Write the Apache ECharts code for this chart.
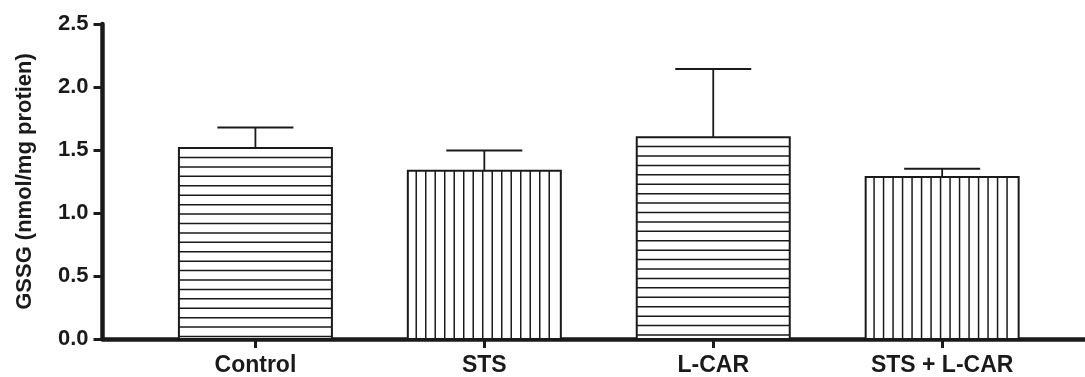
<!DOCTYPE html>
<html>
<head>
<meta charset="utf-8">
<script src="https://cdn.jsdelivr.net/npm/echarts@6/dist/echarts.min.js"></script>
<style>html,body{margin:0;padding:0;background:#fff}#c{width:1085px;height:377px}</style>
</head>
<body>
<div id="c"></div>
<script>
const categories = ['Control', 'STS', 'L-CAR', 'STS + L-CAR'];
const means = [1.515, 1.335, 1.602, 1.285];
const errors = [0.163, 0.161, 0.541, 0.066];
const hatch = ['h', 'v', 'h', 'v'];
const yTicks = [0, 0.5, 1.0, 1.5, 2.0, 2.5];

const FONT = '"Liberation Sans", Arial, Helvetica, sans-serif';
const INK = '#1a1a1a';

const data = categories.map((c, i) => [i, means[i], errors[i], hatch[i] === 'h' ? 0 : 1]);

const chart = echarts.init(document.getElementById('c'));
chart.setOption({
  animation: false,
  backgroundColor: '#fff',
  grid: { left: 102.5, right: 0, top: 24, bottom: 37.5 },
  xAxis: {
    type: 'value',
    min: -0.668, max: 3.624,
    splitLine: { show: false },
    axisLine: { show: true, onZero: false, lineStyle: { color: INK, width: 4.5 } },
    axisTick: { show: true, customValues: [0, 1, 2, 3], length: 9, lineStyle: { color: INK, width: 3 } },
    axisLabel: {
      customValues: [0, 1, 2, 3],
      formatter: v => categories[Math.round(v)] || '',
      margin: 15, fontFamily: FONT, fontWeight: 'bold', fontSize: 23, color: INK
    }
  },
  yAxis: {
    type: 'value',
    min: 0, max: 2.5, interval: 0.5,
    name: 'GSSG (nmol/mg protien)',
    nameLocation: 'middle', nameGap: 67, nameRotate: 90,
    nameTextStyle: { fontFamily: FONT, fontWeight: 'bold', fontSize: 22, color: INK },
    splitLine: { show: false },
    axisLine: { show: true, onZero: false, lineStyle: { color: INK, width: 4.5 } },
    axisTick: { show: true, length: 9, lineStyle: { color: INK, width: 3 } },
    axisLabel: {
      margin: 14, fontFamily: FONT, fontWeight: 'bold', fontSize: 22, color: INK,
      formatter: v => yTicks.indexOf(v) >= 0 ? v.toFixed(1) : ''
    }
  },
  series: [{
    type: 'custom',
    data: data,
    encode: { x: 0, y: 1 },
    z: 1,
    renderItem: function (params, api) {
      const x = api.value(0), m = api.value(1), e = api.value(2), t = api.value(3);
      const base = api.coord([x, 0]);
      const top = api.coord([x, m]);
      const et = api.coord([x, m + e]);
      const hw = 76.5;
      const L = base[0] - hw, R = base[0] + hw, T = top[1], B = base[1];
      const children = [];
      children.push({ type: 'rect', shape: { x: L, y: T, width: R - L, height: B - T },
        style: { fill: '#fff', stroke: null } });
      const hs = { stroke: INK, lineWidth: 1.5 };
      if (t === 0) {
        for (let y = T + 9.42; y < B - 2; y += 9.42) {
          children.push({ type: 'line', shape: { x1: L, y1: y, x2: R, y2: y }, style: hs });
        }
      } else {
        for (let xx = L + 8.4; xx < R - 3; xx += 9.5) {
          children.push({ type: 'line', shape: { x1: xx, y1: T, x2: xx, y2: B }, style: hs });
        }
      }
      children.push({ type: 'rect', shape: { x: L, y: T, width: R - L, height: B - T },
        style: { fill: null, stroke: INK, lineWidth: 2 } });
      children.push({ type: 'line', shape: { x1: base[0], y1: T, x2: base[0], y2: et[1] },
        style: { stroke: INK, lineWidth: 1.8 } });
      children.push({ type: 'line', shape: { x1: base[0] - 38, y1: et[1], x2: base[0] + 38, y2: et[1] },
        style: { stroke: INK, lineWidth: 2 } });
      return { type: 'group', children: children };
    }
  }]
});
</script>
</body>
</html>
